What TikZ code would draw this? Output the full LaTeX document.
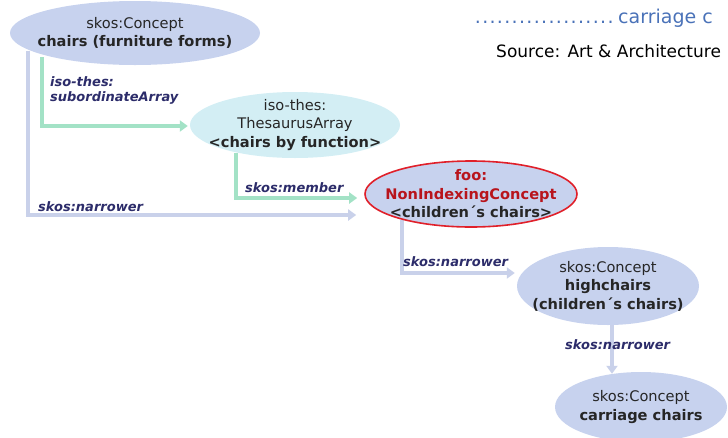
\documentclass[tikz,border=0pt]{standalone}
\usepackage{fontspec}
\setmainfont{DejaVu Sans}
\usetikzlibrary{shapes.geometric,arrows.meta,calc,backgrounds}
\definecolor{lavfill}{HTML}{C7D2EE}
\definecolor{cyanfill}{HTML}{D3EEF4}
\definecolor{lavline}{HTML}{C9D1EA}
\definecolor{greenline}{HTML}{A3E2C6}
\definecolor{labcol}{HTML}{2C2C6A}
\definecolor{redring}{HTML}{E0202A}
\definecolor{redtext}{HTML}{B8141C}
\definecolor{bluetitle}{HTML}{4A72B8}
\tikzset{
  concept/.style={ellipse,fill=lavfill,inner sep=0pt},
  ctext/.style={align=center,inner sep=0pt,font=\fontsize{14.6}{18.5}\selectfont,text=black!85},
  relbl/.style={font=\fontsize{13}{15}\selectfont\bfseries\itshape,text=labcol,anchor=base west,align=left,inner sep=0pt},
  lavconn/.style={draw=lavline,line width=4pt,-{Triangle[width=11pt,length=8pt]}},
  greenconn/.style={draw=greenline,line width=4pt,-{Triangle[width=11pt,length=8pt]}}
}
\begin{document}
\begin{tikzpicture}[x=1pt,y=-1pt]
\useasboundingbox (0,0) rectangle (728,437);
\clip (0,0) rectangle (728,437);
\node[concept,minimum width=250pt,minimum height=64pt] (e1) at (135,33) {};
\node[ctext] (e1t) at (e1) {skos:Concept\\\textbf{chairs (furniture forms)}};
\node[concept,fill=cyanfill,minimum width=210pt,minimum height=66pt] (e2) at (295,125) {};
\node[ctext] (e2t) at (e2) {iso-thes:\\ThesaurusArray\\\textbf{<chairs by function>}};
\node[concept,draw=redring,line width=1.6pt,minimum width=212pt,minimum height=66pt] (e3) at (471,194) {};
\node[ctext] (e3t) at (e3) {\textcolor{redtext}{\textbf{foo:}}\\\textcolor{redtext}{\textbf{NonIndexingConcept}}\\\textbf{<children´s chairs>}};
\node[concept,minimum width=182pt,minimum height=78pt] (e4) at (608,286) {};
\node[ctext] (e4t) at (e4) {skos:Concept\\\textbf{highchairs}\\\textbf{(children´s chairs)}};
\node[concept,minimum width=172pt,minimum height=70pt] (e5) at (641,407) {};
\node[ctext] (e5t) at (e5) {skos:Concept\\\textbf{carriage chairs}};

\coordinate (d1) at ($(e4.south)+(4,0)$);
\begin{scope}[on background layer]
\draw[lavconn] ($(e1.center)+(-107,18)$) |- ($(e3.west)+(-8,21)$);
\draw[greenconn] ($(e1.center)+(-93,24)$) |- ($(e2.west)+(-2,1)$);
\draw[greenconn] ($(e2.center)+(-59,28)$) |- ($(e3.west)+(-7,4)$);
\draw[lavconn] ($(e3.center)+(-69,26)$) |- ($(e4.west)+(-2,-13)$);
\draw[lavconn] ($(d1)+(0,-6)$) -- ($(d1 |- e5.north)+(0,2)$);
\end{scope}

\node[relbl] (l1) at (50,101) {iso-thes:\\subordinateArray};
\node[relbl] (l2) at (38,211) {skos:narrower};
\node[relbl] (l3) at (245,192) {skos:member};
\node[relbl] (l4) at (403,266) {skos:narrower};
\node[relbl] (l5) at (565,349) {skos:narrower};

\node[anchor=base west,inner sep=0pt,font=\fontsize{19}{21}\selectfont,text=bluetitle] (t1) at (474,23) {\hbox to 140pt{\xleaders\hbox to 7.3pt{\hss.\hss}\hfill}\hspace{4pt}carriage c};
\node[anchor=base west,inner sep=0pt,font=\fontsize{17}{18}\selectfont,text=black] (t2) at (496,57) {Source: Art \& Architecture};
\end{tikzpicture}
\end{document}
